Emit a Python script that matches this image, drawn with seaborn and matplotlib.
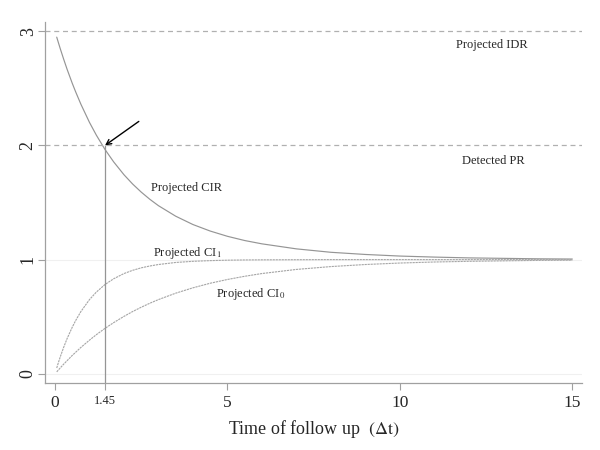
import pandas as pd
import seaborn as sns
import matplotlib.pyplot as plt

# values
time = [0.05, 0.1, 0.15, 0.25, 0.35, 0.5, 0.6, 0.75, 1.0, 1.2, 1.45, 1.7, 2.0, 2.25,
        2.5, 2.75, 3.0, 3.5, 4.0, 4.5, 5.0, 5.5, 6.0, 7.0, 8.0, 9.0, 10.0, 11.0,
        12.0, 13.0, 14.0, 15.0]
cir = [2.948, 2.898, 2.849, 2.756, 2.667, 2.544, 2.468, 2.361, 2.201, 2.089, 1.964,
       1.856, 1.743, 1.662, 1.591, 1.528, 1.472, 1.380, 1.307, 1.250, 1.204, 1.167,
       1.138, 1.094, 1.064, 1.045, 1.031, 1.022, 1.015, 1.011, 1.007, 1.005]
ci1 = [0.051, 0.100, 0.146, 0.231, 0.308, 0.408, 0.467, 0.545, 0.650, 0.716, 0.782,
       0.832, 0.878, 0.906, 0.928, 0.944, 0.957, 0.975, 0.985, 0.991, 0.995, 0.997,
       0.998, 0.999, 1.000, 1.000, 1.000, 1.000, 1.000, 1.000, 1.000, 1.000]
ci0 = [0.017, 0.034, 0.051, 0.084, 0.115, 0.161, 0.189, 0.231, 0.295, 0.343, 0.398,
       0.448, 0.503, 0.545, 0.583, 0.618, 0.650, 0.706, 0.753, 0.793, 0.826, 0.854,
       0.878, 0.914, 0.939, 0.957, 0.970, 0.979, 0.985, 0.989, 0.993, 0.995]
idr_level = 3
pr_level = 2
t_mark = 1.45
x_ticks = [0, 1.45, 5, 10, 15]
x_labels = ["0", "1.45", "5", "10", "15"]
y_ticks = [0, 1, 2, 3]

df = pd.DataFrame({"t": time, "CIR": cir, "CI1": ci1, "CI0": ci0})

sns.set_style("white")
plt.rcParams['font.family'] = ['Liberation Serif', 'DejaVu Serif']
plt.rcParams['mathtext.fontset'] = 'stix'

fig = plt.figure(figsize=(6, 4.5), dpi=100)
ax = fig.add_axes([0.075, 0.149, 0.895, 0.802])

gray = '#959595'
sns.lineplot(data=df, x="t", y="CIR", ax=ax, color=gray, lw=0.85)
sns.lineplot(data=df, x="t", y="CI1", ax=ax, color='#a5a5a5', lw=0.8, linestyle=(0, (2, 0.7)))
sns.lineplot(data=df, x="t", y="CI0", ax=ax, color='#a5a5a5', lw=0.8, linestyle=(0, (2, 0.7)))

ax.set_xlim(-0.29, 15.28)
ax.set_ylim(-0.08, 3.08)

# faint reference lines and dashed levels
for lv in [0, 1]:
    ax.axhline(lv, color='#f0f0f0', lw=0.8, zorder=0)
ax.axhline(idr_level, color='#b0b0b0', lw=0.9, linestyle=(0, (4, 3)))
ax.axhline(pr_level, color='#b0b0b0', lw=0.9, linestyle=(0, (4, 3)))
ax.vlines(t_mark, -0.08, pr_level, color=gray, lw=0.9)

ax.annotate("", xy=(t_mark, pr_level), xytext=(2.43, 2.21),
            arrowprops=dict(arrowstyle='->', color='black', lw=1.0,
                            shrinkA=0, shrinkB=0, mutation_scale=9))

ax.text(12.67, 2.88, "Projected IDR", ha='center', va='center', fontsize=9)
ax.text(12.7, 1.86, "Detected PR", ha='center', va='center', fontsize=9)
ax.text(2.77, 1.63, "Projected CIR", ha='left', va='center', fontsize=9)
ax.text(2.83, 1.06, "Projected CI$_1$", ha='left', va='center', fontsize=9)
ax.text(4.67, 0.70, "Projected CI$_0$", ha='left', va='center', fontsize=9)

for s in ['top', 'right']:
    ax.spines[s].set_visible(False)
for s in ['left', 'bottom']:
    ax.spines[s].set_color('#a0a0a0')
    ax.spines[s].set_linewidth(0.9)

ax.set_xticks(x_ticks)
ax.set_xticklabels(x_labels)
ax.set_yticks(y_ticks)
ax.set_yticklabels([str(v) for v in y_ticks], rotation=90, va='center')
ax.tick_params(axis='both', direction='out', length=5, width=0.8, color='#a0a0a0',
               labelsize=12.5, pad=4, bottom=True, left=True)
ax.tick_params(axis='y', pad=1, labelsize=13)
ax.get_xticklabels()[1].set_fontsize(9)

ax.set_xlabel(r"Time of follow up  $\left(\Delta\mathrm{t}\right)$", fontsize=13, labelpad=5)
ax.set_ylabel("")

fig.savefig("out.png", dpi=100)
